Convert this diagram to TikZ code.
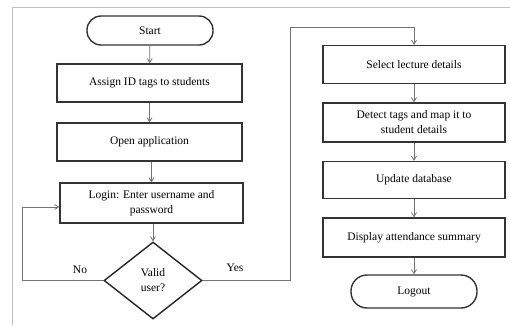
\documentclass[tikz,border=0pt]{standalone}
\usepackage{fontspec}
\setmainfont{Liberation Serif}
\usetikzlibrary{shapes.geometric,arrows.meta}
\begin{document}
\begin{tikzpicture}[x=1pt,y=-1pt,
  box/.style={draw=black!80,line width=1.4pt,rectangle,inner sep=2pt,align=center,font=\fontsize{11.5}{15}\selectfont},
  term/.style={draw=black!80,line width=1.4pt,rectangle,rounded corners=14pt,align=center,font=\fontsize{11.5}{13}\selectfont},
  dec/.style={draw=black!85,line width=1.4pt,diamond,inner sep=0pt,align=center,font=\fontsize{11.5}{15}\selectfont},
  conn/.style={draw=black!55,line width=0.8pt},
  arr/.style={conn,-{Straight Barb[length=4pt,width=5pt]}},
  frame/.style={draw=black!25,line width=0.8pt},
  lab/.style={font=\fontsize{11.5}{13}\selectfont}]
\useasboundingbox (0,0) rectangle (510,325);
\fill[white] (0,0) rectangle (510,325);
\coordinate (f1) at (12,325);
\coordinate (f2) at (12,7);
\coordinate (f3) at (510,7);
\draw[frame] (f1) -- (f2) -- (f3);

\node[term,minimum width=126pt,minimum height=29pt] (start) at (150,30.5) {Start};
\node[box,minimum width=185pt,minimum height=38pt] (assign) at (149.5,83) {Assign ID tags to students};
\node[box,minimum width=185pt,minimum height=38pt] (open) at (149.5,142) {Open application};
\node[box,minimum width=183pt,minimum height=40pt] (login) at (151.5,203) {Login: Enter username and\\password};
\node[dec,minimum width=98pt,minimum height=77pt] (valid) at (153,280.5) {Valid\\user?};

\node[box,minimum width=182pt,minimum height=38pt] (select) at (414,64.5) {Select lecture details};
\node[box,minimum width=182pt,minimum height=39pt] (detect) at (414,122.5) {Detect tags and map it to\\student details};
\node[box,minimum width=182pt,minimum height=37pt] (update) at (414,180) {Update database};
\node[box,minimum width=182pt,minimum height=39pt] (display) at (414,237.5) {Display attendance summary};
\node[term,minimum width=126pt,minimum height=33pt,rounded corners=16pt] (logout) at (414,291.5) {Logout};

\draw[arr] (start) -- (assign);
\draw[arr] (assign) -- (open);
\draw[arr] (open.south -| login.north) -- (login.north);
\draw[arr] (login.south -| valid.north) -- (valid.north);

\coordinate (lc) at (22,280.5);
\draw[arr] (valid.west) -- (lc) |- ([yshift=-4pt]login.west);
\node[lab] (no) at (80,270) {No};

\coordinate (yc) at (290,27);
\draw[arr] (valid.east) -| (yc) -| (select.north);
\node[lab] (yes) at (235,268) {Yes};

\draw[arr] (select) -- (detect);
\draw[arr] (detect) -- (update);
\draw[arr] (update) -- (display);
\draw[arr] (display) -- (logout);
\end{tikzpicture}
\end{document}
